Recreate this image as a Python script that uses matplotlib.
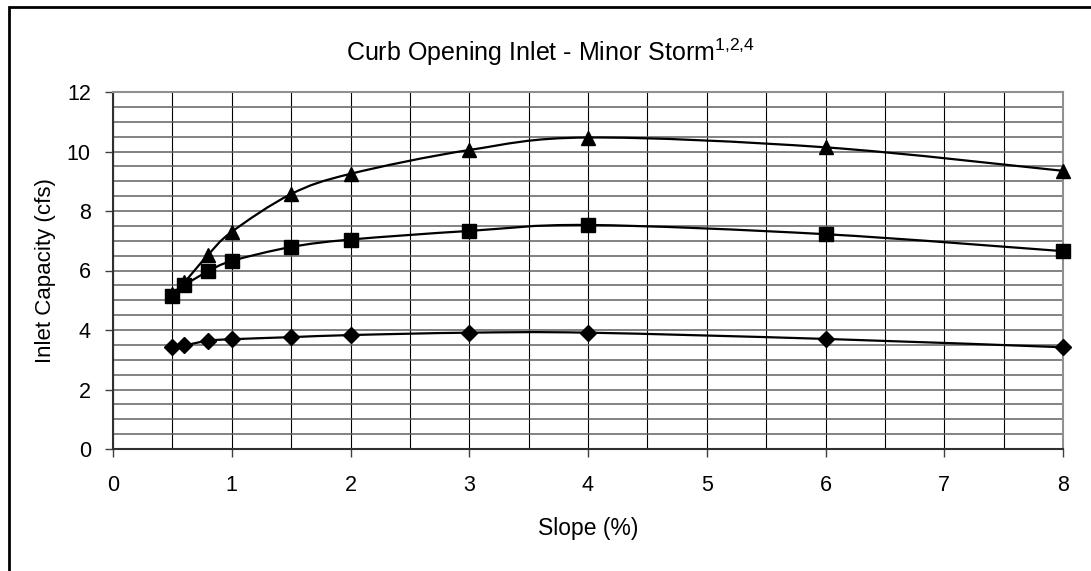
import numpy as np
import matplotlib.pyplot as plt
from matplotlib.path import Path
from matplotlib.patches import PathPatch, Rectangle

plt.rcParams['font.family'] = ['Liberation Sans', 'DejaVu Sans']
plt.rcParams['mathtext.fontset'] = 'custom'
plt.rcParams['mathtext.rm'] = 'Liberation Sans'
plt.rcParams['mathtext.default'] = 'regular'

# data
slope = [0.5, 0.6, 0.8, 1.0, 1.5, 2.0, 3.0, 4.0, 6.0, 8.0]
cap_triangle = [5.2, 5.6, 6.52, 7.3, 8.57, 9.25, 10.05, 10.47, 10.14, 9.35]
cap_square = [5.15, 5.5, 5.97, 6.32, 6.79, 7.04, 7.33, 7.53, 7.22, 6.65]
cap_diamond = [3.42, 3.48, 3.64, 3.69, 3.76, 3.83, 3.91, 3.91, 3.70, 3.42]

title = 'Curb Opening Inlet - Minor Storm$^{1{,}2{,}4}$'
xlabel = 'Slope (%)'
ylabel = 'Inlet Capacity (cfs)'


def smooth_path(x, y):
    # Catmull-Rom style bezier through the points (Excel "smoothed line")
    x = np.asarray(x, float)
    y = np.asarray(y, float)
    verts = [(x[0], y[0])]
    codes = [Path.MOVETO]
    n = len(x)
    for i in range(n - 1):
        x0, y0 = (x[i - 1], y[i - 1]) if i > 0 else (x[i], y[i])
        x3, y3 = (x[i + 2], y[i + 2]) if i + 2 < n else (x[i + 1], y[i + 1])
        c1 = (x[i] + (x[i + 1] - x0) / 6, y[i] + (y[i + 1] - y0) / 6)
        c2 = (x[i + 1] - (x3 - x[i]) / 6, y[i + 1] - (y3 - y[i]) / 6)
        verts += [c1, c2, (x[i + 1], y[i + 1])]
        codes += [Path.CURVE4] * 3
    return Path(verts, codes)


fig = plt.figure(figsize=(10.91, 5.71), dpi=100)
ax = fig.add_axes([113 / 1091, 1 - 449 / 571, 950 / 1091, 357 / 571])

# outer chart frame
fig.patches.append(Rectangle((9 / 1091, -0.05), 1.1, 1 - 7 / 571 + 0.05,
                             transform=fig.transFigure, fill=False,
                             edgecolor='black', linewidth=2, zorder=0))

ax.set_xlim(0, 8)
ax.set_ylim(0, 12)
ax.set_xticks(range(0, 9))
ax.set_yticks(range(0, 13, 2))
ax.set_xticks(np.arange(0, 8.01, 0.5), minor=True)
ax.set_yticks(np.arange(0, 12.01, 0.5), minor=True)
ax.tick_params(which='minor', length=0)
ax.tick_params(which='major', direction='out', length=6, width=1,
               color='#404040', labelsize=15.5)
ax.tick_params(axis='x', pad=13)
ax.tick_params(axis='y', pad=10)

ax.grid(axis='x', which='both', color='black', linewidth=0.8)
ax.grid(axis='y', which='both', color='#606060', linewidth=1.1)
ax.set_axisbelow(True)

for side in ['top', 'right']:
    ax.spines[side].set_color('#909090')
    ax.spines[side].set_linewidth(1.5)
for side in ['left', 'bottom']:
    ax.spines[side].set_color('#303030')
    ax.spines[side].set_linewidth(1.5)

for yv, mk, ms in [(cap_triangle, '^', 10), (cap_square, 's', 10), (cap_diamond, 'D', 8)]:
    ax.add_patch(PathPatch(smooth_path(slope, yv), fill=False,
                           edgecolor='black', linewidth=1.6, zorder=3))
    ax.plot(slope, yv, linestyle='none', marker=mk, markersize=ms,
            color='black', zorder=4, clip_on=False)

fig.text(550 / 1091, 1 - 52 / 571, title, fontsize=18, ha='center', va='center')
ax.set_xlabel(xlabel, fontsize=16.5, labelpad=15)
ax.set_ylabel(ylabel, fontsize=16, labelpad=8)

fig.savefig('out.png', dpi=100)
